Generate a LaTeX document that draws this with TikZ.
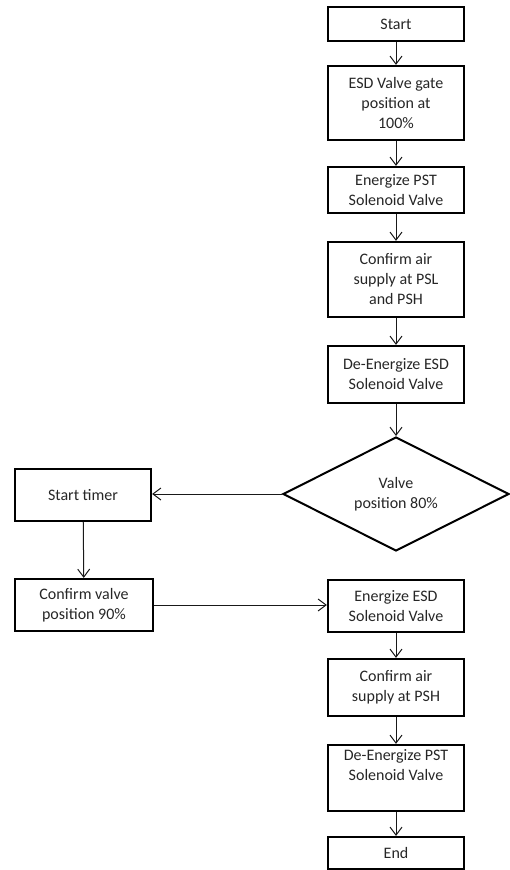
\documentclass[tikz,border=0pt]{standalone}
\usepackage{fontspec}
\setmainfont{Carlito}
\usetikzlibrary{shapes.geometric,arrows.meta}
\tikzset{
  box/.style={draw=black, line width=2.2pt, rectangle, minimum width=136pt, align=center, inner sep=2pt, font=\fontsize{16}{20}\selectfont, text=black!85},
  decision/.style={draw=black, line width=2pt, diamond, aspect=2, minimum width=226pt, minimum height=114pt, align=center, inner sep=1pt, font=\fontsize{16}{20}\selectfont, text=black!85},
  conn/.style={draw=black!90, line width=1pt, -{Straight Barb[length=8pt,width=12pt]}}
}
\begin{document}
\begin{tikzpicture}[x=1pt,y=-1pt]
\useasboundingbox (0,0) rectangle (509,870);
\node[box, minimum height=34pt] (start) at (396,24) {Start};
\node[box, minimum height=74pt] (esd) at (396,103) {ESD Valve gate\\position at\\100\%};
\node[box, minimum height=46pt] (pst) at (396,190) {Energize PST\\Solenoid Valve};
\node[box, minimum height=75pt] (psl) at (396,279.5) {Confirm air\\supply at PSL\\and PSH};
\node[box, minimum height=57pt] (deesd) at (396,374.5) {De-Energize ESD\\Solenoid Valve};
\node[decision] (dec) at (396,494) {Valve\\position 80\%};
\node[box, minimum height=52pt] (timer) at (83,495) {Start timer};
\node[box, minimum height=52pt, minimum width=138pt] (cv) at (84,605) {Confirm valve\\position 90\%};
\node[box, minimum height=52pt] (enesd) at (396,606) {Energize ESD\\Solenoid Valve};
\node[box, minimum height=57pt] (psh) at (396,687.5) {Confirm air\\supply at PSH};
\node[box, minimum height=66pt] (depst) at (396,778) {De-Energize PST\\Solenoid Valve\\[6pt]};
\node[box, minimum height=32pt] (end) at (396,853) {End};
\draw[conn] (start) -- (esd);
\draw[conn] (esd) -- (pst);
\draw[conn] (pst) -- (psl);
\draw[conn] (psl) -- (deesd);
\draw[conn] (deesd) -- (dec);
\draw[conn] (dec.west) -- (timer.east |- dec.west);
\draw[conn] (timer) -- (cv);
\draw[conn] (cv.east) -- (enesd.west |- cv.east);
\draw[conn] (enesd) -- (psh);
\draw[conn] (psh) -- (depst);
\draw[conn] (depst) -- (end);
\end{tikzpicture}
\end{document}
